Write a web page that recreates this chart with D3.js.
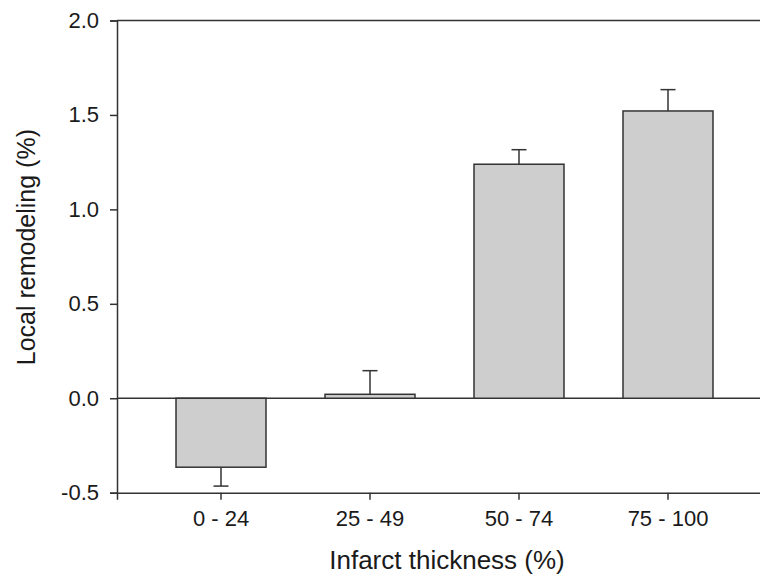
<!DOCTYPE html>
<html>
<head>
<meta charset="utf-8">
<script src="https://cdn.jsdelivr.net/npm/d3@7"></script>
<style>
  body { margin: 0; background: #fff; }
  text { font-family: "Liberation Sans", Arial, sans-serif; fill: #1a1a1a; }
</style>
</head>
<body>
<div id="root"></div>
<script>
const categories = ['0 - 24', '25 - 49', '50 - 74', '75 - 100'];
const means = [-0.365, 0.021, 1.239, 1.521];
const errors = [0.1, 0.125, 0.077, 0.113];
const yTicks = [-0.5, 0.0, 0.5, 1.0, 1.5, 2.0];

const width = 760;
const height = 577;
const stroke = '#333';
const font = '"Liberation Sans", Arial, sans-serif';

const svg = d3.select('#root')
  .append('svg')
  .attr('width', width)
  .attr('height', height);

const x = d3.scaleBand()
  .domain(categories)
  .range([117, 772])
  .padding(0.396);

const y = d3.scaleLinear()
  .domain([-0.5, 2.0])
  .range([492.7, 20.5]);

// frame lines: top and zero line
svg.append('line')
  .attr('x1', 117).attr('x2', width)
  .attr('y1', y(2.0)).attr('y2', y(2.0))
  .attr('stroke', stroke).attr('stroke-width', 1.5);

svg.append('line')
  .attr('x1', 117).attr('x2', width)
  .attr('y1', y(0)).attr('y2', y(0))
  .attr('stroke', stroke).attr('stroke-width', 1.5);

// error bars (one-sided, away from zero)
const errEnd = i => means[i] + Math.sign(means[i]) * errors[i];
const err = svg.append('g')
  .selectAll('g')
  .data(categories)
  .enter()
  .append('g');

err.append('line')
  .attr('x1', d => x(d) + x.bandwidth() / 2)
  .attr('x2', d => x(d) + x.bandwidth() / 2)
  .attr('y1', (d, i) => y(means[i]))
  .attr('y2', (d, i) => y(errEnd(i)))
  .attr('stroke', stroke).attr('stroke-width', 1.5);

err.append('line')
  .attr('x1', d => x(d) + x.bandwidth() / 2 - 7.5)
  .attr('x2', d => x(d) + x.bandwidth() / 2 + 7.5)
  .attr('y1', (d, i) => y(errEnd(i)))
  .attr('y2', (d, i) => y(errEnd(i)))
  .attr('stroke', stroke).attr('stroke-width', 1.5);

// bars
svg.append('g')
  .selectAll('rect')
  .data(categories)
  .enter()
  .append('rect')
  .attr('x', d => x(d))
  .attr('width', x.bandwidth())
  .attr('y', (d, i) => y(Math.max(0, means[i])))
  .attr('height', (d, i) => Math.abs(y(means[i]) - y(0)))
  .attr('fill', '#cecece')
  .attr('stroke', stroke)
  .attr('stroke-width', 1.5);

// y axis
const yAxis = svg.append('g')
  .attr('transform', 'translate(117,0)')
  .call(d3.axisLeft(y)
    .tickValues(yTicks)
    .tickFormat(d => d3.format('.1f')(d).replace('\u2212', '-'))
    .tickSize(7)
    .tickPadding(11));
yAxis.select('.domain').attr('stroke', stroke).attr('stroke-width', 1.5);
yAxis.selectAll('.tick line').attr('stroke', stroke).attr('stroke-width', 1.5);
yAxis.selectAll('.tick text').attr('font-size', 22).attr('fill', '#1a1a1a')
  .style('font-family', font);

// x axis at the bottom
const xAxis = svg.append('g')
  .attr('transform', `translate(0,${y(-0.5)})`)
  .call(d3.axisBottom(x).tickSizeOuter(0).tickSize(7).tickPadding(11));
xAxis.select('.domain').attr('stroke', stroke).attr('stroke-width', 1.5);
xAxis.selectAll('.tick line').attr('stroke', stroke).attr('stroke-width', 1.5);
xAxis.selectAll('.tick text').attr('font-size', 22).attr('fill', '#1a1a1a')
  .style('font-family', font);

// axis titles
svg.append('text')
  .attr('x', 447)
  .attr('y', 569)
  .attr('text-anchor', 'middle')
  .attr('font-size', 26)
  .text('Infarct thickness (%)');

svg.append('text')
  .attr('transform', `translate(35,${y(0.8)}) rotate(-90)`)
  .attr('text-anchor', 'middle')
  .attr('font-size', 25)
  .text('Local remodeling (%)');
</script>
</body>
</html>
